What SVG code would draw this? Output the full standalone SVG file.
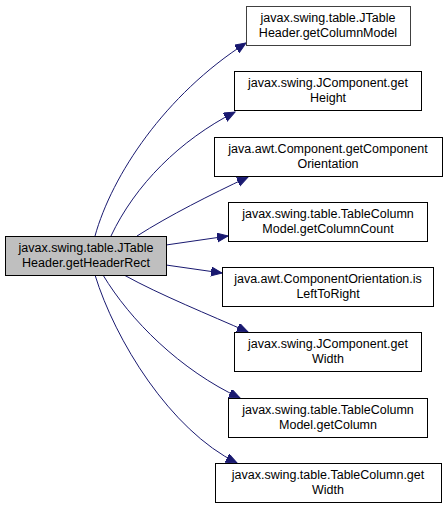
<svg xmlns="http://www.w3.org/2000/svg" width="447" height="509" viewBox="0 0 447 509">
<style>
.n rect{fill:#fff;stroke:#000;stroke-width:1}
.n text{font-family:"Liberation Sans",Arial,sans-serif;font-size:12.5px;fill:#000;text-anchor:middle}
.e path{fill:none;stroke:#191970;stroke-width:1}
</style>
<defs>
<marker id="ah" markerUnits="userSpaceOnUse" markerWidth="12" markerHeight="10" refX="11" refY="4.5" orient="auto" viewBox="0 0 12 10">
<path d="M0,0 L11,4.5 L0,9 Z" fill="#191970" stroke="#191970"/>
</marker>
</defs>
<rect width="447" height="509" fill="#fff"/>
<g id="edges" class="e">
<path d="M95,236 C112,175 165,95 246,43" marker-end="url(#ah)"/>
<path d="M111,236 C135,185 180,140 235,112" marker-end="url(#ah)"/>
<path d="M137,236 C170,215 210,195 248,177" marker-end="url(#ah)"/>
<path d="M166,245 L228,236" marker-end="url(#ah)"/>
<path d="M166,265 L222,273" marker-end="url(#ah)"/>
<path d="M124,275 C160,295 210,315 248,332" marker-end="url(#ah)"/>
<path d="M103,275 C130,320 180,370 240,398" marker-end="url(#ah)"/>
<path d="M95,275 C115,340 170,430 237,463" marker-end="url(#ah)"/>
</g>
<g id="node1" class="n"><rect x="5.5" y="236.5" width="161" height="39" style="fill:#bfbfbf"/><text x="86" y="252">javax.swing.table.JTable</text><text x="86" y="267">Header.getHeaderRect</text></g>
<g id="node2" class="n"><rect x="246.5" y="6.5" width="164" height="39" style="stroke:#404040"/><text x="328" y="22">javax.swing.table.JTable</text><text x="328" y="37">Header.getColumnModel</text></g>
<g id="node3" class="n"><rect x="234.5" y="71.5" width="187" height="39"/><text x="328" y="87">javax.swing.JComponent.get</text><text x="328" y="102">Height</text></g>
<g id="node4" class="n"><rect x="214.5" y="137.5" width="228" height="39"/><text x="328" y="153">java.awt.Component.getComponent</text><text x="328" y="168">Orientation</text></g>
<g id="node5" class="n"><rect x="228.5" y="202.5" width="199" height="39"/><text x="328" y="218">javax.swing.table.TableColumn</text><text x="328" y="233">Model.getColumnCount</text></g>
<g id="node6" class="n"><rect x="222.5" y="267.5" width="211" height="39"/><text x="328" y="283">java.awt.ComponentOrientation.is</text><text x="328" y="298">LeftToRight</text></g>
<g id="node7" class="n"><rect x="234.5" y="332.5" width="187" height="39"/><text x="328" y="348">javax.swing.JComponent.get</text><text x="328" y="363">Width</text></g>
<g id="node8" class="n"><rect x="228.5" y="398.5" width="199" height="39"/><text x="328" y="414">javax.swing.table.TableColumn</text><text x="328" y="429">Model.getColumn</text></g>
<g id="node9" class="n"><rect x="215.5" y="463.5" width="226" height="39"/><text x="328" y="479">javax.swing.table.TableColumn.get</text><text x="328" y="494">Width</text></g>
</svg>
